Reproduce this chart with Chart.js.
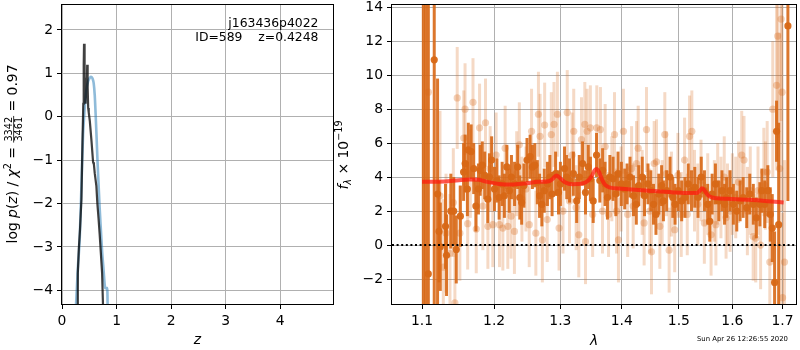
<!DOCTYPE html>
<html><head><meta charset="utf-8">
<script src="https://cdn.jsdelivr.net/npm/chart.js@4.4.1/dist/chart.umd.min.js"></script>
<style>
html,body{margin:0;padding:0;background:#fff;}
#wrap{position:relative;width:800px;height:350px;overflow:hidden;background:#fff;}
canvas{position:absolute;top:0;}
#c1{left:0px}
#c2{left:330px}
</style></head><body>
<div id="wrap"><canvas id="c1" width="340" height="350"></canvas><canvas id="c2" width="470" height="350"></canvas></div>
<script>
// ---------- Left panel: log p(z) ----------
const leftXTicks = [0, 1, 2, 3, 4];
const leftYTicks = [-4, -3, -2, -1, 0, 1, 2];
const blueZ    = [0.255,0.29,0.325,0.356,0.386,0.40,0.425,0.447,0.48,0.51,0.535,0.56,0.58,0.60,0.615,0.63,0.65,0.67,0.69,0.71,0.735,0.76,0.785,0.795,0.83,0.838];
const blueLogP = [-4.4,-3.5,-2.8,-1.6,-0.4,-0.1,0.35,0.62,0.82,0.9,0.92,0.88,0.78,0.5,0.1,-0.35,-1.0,-1.55,-2.1,-2.55,-3.1,-3.5,-3.9,-3.95,-3.95,-4.5];
const darkZ    = [0.275,0.29,0.31,0.33,0.356,0.375,0.39,0.398,0.404,0.41,0.418,0.426,0.432,0.44,0.452,0.462,0.47,0.48,0.49,0.51,0.54,0.57,0.585,0.60,0.63,0.648,0.67,0.69,0.715,0.735,0.755];
const darkLogP = [-4.5,-3.6,-3.0,-2.6,-1.9,-0.6,0.3,1.2,1.68,1.0,0.35,0.9,0.3,0.75,0.55,1.2,0.7,0.2,0.1,-0.1,-0.55,-1.05,-1.1,-1.3,-1.6,-2.0,-2.35,-2.7,-3.2,-3.6,-4.5];

// ---------- Right panel: spectrum ----------
const rightXTicks = [1.1, 1.2, 1.3, 1.4, 1.5, 1.6, 1.7];
const rightYTicks = [-2, 0, 2, 4, 6, 8, 10, 12, 14];
const lightLam = [1.1084,1.1241,1.1286,1.1323,1.1377,1.1423,1.1445,1.1477,1.1514,1.1568,
 1.1586,1.1623,1.1660,1.1698,1.1744,1.1791,1.1838,1.1876,1.1910,1.1943,
 1.1981,1.2029,1.2078,1.2127,1.2161,1.2200,1.2249,1.2298,1.2332,1.2371,
 1.2410,1.2470,1.2520,1.2555,1.2620,1.2660,1.2685,1.2720,1.2755,1.2795,
 1.2858,1.2900,1.2953,1.2979,1.3041,1.3108,1.3144,1.3185,1.3211,1.3249,
 1.3292,1.3335,1.3389,1.3400,1.3426,1.3479,1.3516,1.3584,1.3644,1.3678,
 1.3722,1.3778,1.3833,1.3878,1.3911,1.3944,1.3989,1.4028,1.4100,1.4167,
 1.4194,1.4251,1.4280,1.4349,1.4383,1.4424,1.4482,1.4512,1.4559,1.4600,
 1.4659,1.4700,1.4747,1.4776,1.4824,1.4865,1.4924,1.4982,1.5042,1.5103,
 1.5152,1.5194,1.5236,1.5285,1.5345,1.5406,1.5468,1.5531,1.5594,1.5656,
 1.5685,1.5719,1.5781,1.5844,1.5879,1.5906,1.5956,1.6000,1.6065,1.6120,
 1.6182,1.6227,1.6293,1.6350,1.6407,1.6458,1.6503,1.6555,1.6620,1.6650,
 1.6687,1.6740,1.6800,1.6877,1.6900,1.6940,1.6970,1.6990,1.7000,1.7040];
const lightFlux = [9.0,2.9,-1.3,0.7,-0.5,2.5,-3.4,8.66,0.7,6.3,
 8.0,1.26,4.2,8.4,0.94,6.9,2.3,7.2,1.1,4.5,
 1.2,5.3,1.2,1.0,5.7,1.1,1.7,0.8,4.2,5.9,
 2.7,3.3,1.2,6.7,0.7,7.7,6.4,0.3,7.06,1.5,
 6.5,7.1,7.7,1.0,2.0,7.8,2.6,5.3,6.7,2.2,
 0.6,6.2,7.1,0.2,6.7,6.9,1.8,6.9,6.8,2.0,
 5.8,1.8,3.9,6.5,2.0,0.3,3.3,6.7,1.8,4.5,
 2.3,4.8,5.7,3.1,1.3,6.8,2.0,-0.4,4.8,4.9,
 1.1,2.5,6.5,4.2,-0.3,3.0,0.9,4.1,1.8,5.0,
 1.8,6.4,6.7,3.2,2.4,3.8,1.3,3.0,0.6,2.6,
 1.2,3.6,2.8,4.0,1.6,2.4,2.0,3.0,2.8,3.7,
 5.3,5.0,2.0,3.2,0.5,0.4,3.2,0.0,4.3,3.5,
 4.3,-1.0,8.0,9.4,12.3,4.5,13.3,9.0,-3.1,-1.0];
const lightErr = [20,5,4,3.5,3.5,3.2,3,3,2.8,2.8,
 2.7,2.7,2.6,2.6,2.6,2.6,2.6,2.6,2.5,2.5,
 2.5,2.5,2.5,2.5,2.5,2.5,2.5,2.5,2.5,2.5,
 2.5,2.5,2.5,2.5,2.5,2.5,2.5,2.5,2.5,2.5,
 2.5,2.5,2.5,2.5,2.5,2.5,2.5,2.5,2.5,2.5,
 2.5,2.5,2.5,2.5,2.5,2.5,2.5,2.5,2.5,2.5,
 2.5,2.5,2.5,2.5,2.5,2.5,2.5,2.5,2.5,2.5,
 2.5,2.5,2.5,2.5,2.5,2.5,2.5,2.5,2.5,2.5,
 2.5,2.5,2.5,2.5,2.5,2.5,2.5,2.5,2.5,2.5,
 2.4,2.4,2.4,2.4,2.4,2.4,2.4,2.4,2.4,2.4,
 2.4,2.4,2.4,2.4,2.4,2.4,2.4,2.4,2.4,2.4,
 2.6,2.6,2.6,2.6,2.6,2.6,2.6,2.6,2.6,2.6,
 3,3.2,4,5,6,8,6,7,5,6];
const darkLam = [1.1017,1.1046,1.1083,1.1163,1.1208,1.1228,1.1245,1.1316,1.1330,1.1389,
 1.1429,1.1464,1.1521,1.1566,1.1588,1.1619,1.1632,1.1672,1.1708,1.1739,
 1.1775,1.1800,1.1830,1.1865,1.1909,1.1932,1.1964,1.2005,1.2041,1.2073,
 1.2117,1.2150,1.2186,1.2222,1.2254,1.2300,1.2346,1.2378,1.2406,1.2440,
 1.2486,1.2533,1.2568,1.2605,1.2643,1.2677,1.2712,1.2749,1.2798,1.2836,
 1.2870,1.2925,1.2970,1.3000,1.3065,1.3100,1.3145,1.3205,1.3258,1.3300,
 1.3353,1.3400,1.3445,1.3480,1.3525,1.3580,1.3634,1.3680,1.3720,1.3760,
 1.3800,1.3854,1.3900,1.3937,1.3993,1.4050,1.4090,1.4140,1.4200,1.4248,
 1.4290,1.4350,1.4390,1.4450,1.4500,1.4547,1.4590,1.4640,1.4690,1.4722,
 1.4780,1.4840,1.4890,1.4930,1.4989,1.5050,1.5110,1.5170,1.5230,1.5290,
 1.5350,1.5410,1.5470,1.5530,1.5570,1.5614,1.5676,1.5740,1.5800,1.5850,
 1.5890,1.5955,1.6020,1.6085,1.6150,1.6210,1.6280,1.6340,1.6410,1.6470,
 1.6540,1.6580,1.6637,1.6700,1.6750,1.6790,1.6837,1.6877,1.6920,1.7110];
const darkFlux = [20,-12,-1.7,10.9,3.0,0.8,-0.1,1.1,-0.6,2.0,
 2.0,-0.26,1.7,4.3,4.8,3.3,5.6,5.5,4.5,2.3,
 3.3,4.4,4.7,4.1,2.7,4.0,5.0,3.3,3.8,2.8,
 3.6,2.9,4.6,3.2,4.0,3.6,4.6,2.8,2.5,3.5,
 5.0,5.2,4.6,4.7,3.7,2.9,2.4,3.2,3.6,4.0,
 3.0,4.2,3.1,3.6,4.5,4.0,3.8,4.2,2.6,4.0,
 4.8,3.1,4.6,3.9,2.6,5.3,3.8,4.4,3.6,2.8,
 4.0,3.9,3.0,4.2,3.6,3.3,3.6,4.0,2.9,2.4,
 3.5,4.0,2.9,3.6,3.2,2.4,1.8,3.0,3.5,2.6,
 3.2,4.0,2.8,2.4,3.2,2.6,2.8,3.6,3.2,3.4,
 2.8,4.0,3.2,2.4,1.4,3.0,3.6,2.6,3.2,2.4,
 2.8,3.2,2.4,2.0,2.6,2.8,2.2,3.0,2.4,1.6,
 2.4,3.2,2.4,3.2,1.8,1.0,-2.2,6.7,1.2,12.9];
const darkErr = [28,28,25,20,6.8,3.0,2.6,2.5,2.4,2.2,
 2.0,2.0,1.8,1.7,1.7,1.6,1.6,1.6,1.5,1.5,
 1.5,1.5,1.4,1.4,1.4,1.4,1.4,1.3,1.3,1.3,
 1.3,1.3,1.3,1.3,1.3,1.3,1.3,1.3,1.3,1.3,
 1.3,1.3,1.3,1.3,1.3,1.3,1.3,1.3,1.3,1.3,
 1.3,1.3,1.3,1.3,1.3,1.3,1.3,1.3,1.3,1.3,
 1.3,1.3,1.3,1.3,1.3,1.3,1.3,1.3,1.3,1.3,
 1.3,1.3,1.3,1.3,1.3,1.2,1.2,1.2,1.2,1.2,
 1.2,1.2,1.2,1.2,1.2,1.2,1.2,1.2,1.2,1.2,
 1.2,1.2,1.2,1.2,1.2,1.2,1.2,1.2,1.2,1.2,
 1.2,1.2,1.2,1.2,1.2,1.2,1.2,1.2,1.2,1.2,
 1.2,1.2,1.2,1.2,1.2,1.2,1.2,1.2,1.2,1.2,
 1.3,1.3,1.4,1.5,1.6,2.0,3.0,1.8,6.0,10.3];
const modelLam  = [1.100,1.130,1.150,1.165,1.178,1.190,1.207,1.225,1.245,1.267,1.282,1.288,1.2935,1.300,1.307,1.319,1.335,1.344,1.350,1.355,1.358,1.362,1.367,1.372,1.379,1.400,1.446,1.490,1.525,1.534,1.539,1.5425,1.547,1.553,1.5614,1.590,1.631,1.670,1.7022];
const modelFlux = [3.72,3.74,3.82,3.86,3.84,3.72,3.60,3.56,3.62,3.72,3.76,3.90,4.10,3.92,3.70,3.58,3.62,3.78,4.05,4.40,4.48,4.30,3.85,3.55,3.40,3.32,3.20,3.10,3.06,3.08,3.22,3.34,3.22,2.95,2.80,2.72,2.66,2.58,2.50];

const LEFT_X = [0, 4.967], LEFT_Y = [-4.315, 2.575];
const RIGHT_X = [1.0608, 1.7278], RIGHT_Y = [-3.47, 14.13];

// ---------- helpers ----------
const FAM = '"DejaVu Sans"';
Chart.defaults.font.family = 'DejaVu Sans';
const fmt = v => (v < 0 ? '\u2212' : '') + Math.abs(v);
const pts = (xs, ys) => xs.map((x, i) => ({x: x, y: ys[i]}));
const ORANGE = '216,104,22';

const errorBars = {
  id: 'errorBars',
  beforeDatasetDraw(chart, args) {
    const ds = chart.data.datasets[args.index];
    if (!ds.errors) return;
    const {ctx, chartArea: a, scales: {x, y}} = chart;
    ctx.save();
    ctx.beginPath(); ctx.rect(a.left, a.top, a.right - a.left, a.bottom - a.top); ctx.clip();
    ctx.strokeStyle = ds.errColor; ctx.lineWidth = ds.errWidth; ctx.lineCap = 'butt';
    ds.data.forEach((p, i) => {
      const px = x.getPixelForValue(p.x), e = ds.errors[i];
      ctx.beginPath();
      ctx.moveTo(px, y.getPixelForValue(p.y - e));
      ctx.lineTo(px, y.getPixelForValue(p.y + e));
      ctx.stroke();
    });
    ctx.restore();
  }
};
const frame = {
  id: 'frame',
  afterDatasetsDraw(chart) {
    const {ctx, chartArea: a} = chart;
    ctx.save(); ctx.strokeStyle = '#000'; ctx.lineWidth = 1;
    ctx.strokeRect(Math.round(a.left) - 0.5, Math.round(a.top) - 0.5, Math.round(a.right - a.left) + 1, Math.round(a.bottom - a.top) + 1);
    ctx.restore();
  }
};
function drawRotatedRich(ctx, bx, cy, pieces) {
  ctx.save();
  ctx.translate(bx, cy); ctx.rotate(-Math.PI / 2);
  ctx.textBaseline = 'alphabetic'; ctx.fillStyle = '#000';
  let total = 0;
  for (const p of pieces) {
    ctx.font = p.font;
    p.w = p.frac ? Math.max(ctx.measureText(p.frac[0]).width, ctx.measureText(p.frac[1]).width) + 2 : ctx.measureText(p.t).width;
    total += p.w;
  }
  let x = -total / 2;
  for (const p of pieces) {
    ctx.font = p.font;
    if (p.frac) {
      const ax = -2.8;
      ctx.textAlign = 'center';
      ctx.fillText(p.frac[0], x + p.w / 2, ax - 1.3);
      ctx.fillText(p.frac[1], x + p.w / 2, ax + 1.3 + p.h);
      ctx.fillRect(x, ax - 0.4, p.w, 0.8);
    } else {
      ctx.textAlign = 'left';
      ctx.fillText(p.t, x, p.dy || 0);
    }
    x += p.w;
  }
  ctx.restore();
}
const F = '13.9px ' + FAM, FI = 'italic 13.9px ' + FAM, FS = '9.7px ' + FAM, FSI = 'italic 9.7px ' + FAM;

function axisCfg(range, ticks, isX, fixed, cb, type) {
  return {
    type: type || 'linear', min: range[0], max: range[1],
    afterBuildTicks: s => { s.ticks = ticks.map(v => ({value: v})); },
    afterFit: s => { if (isX) s.height = fixed; else s.width = fixed; s.paddingTop = 0; s.paddingBottom = 0; s.paddingLeft = 0; s.paddingRight = 0; },
    grid: {color: '#b0b0b0', lineWidth: 1, tickColor: '#000', tickLength: 5, drawTicks: true},
    border: {display: false},
    ticks: {font: {family: 'DejaVu Sans', size: 13.9}, color: '#000', padding: 4, maxRotation: 0, autoSkip: false, callback: cb}
  };
}

// ---------- left chart ----------
const leftText = {
  id: 'leftText',
  afterDraw(chart) {
    const {ctx, chartArea: a} = chart;
    ctx.save(); ctx.fillStyle = '#000';
    ctx.font = '12.4px ' + FAM; ctx.textAlign = 'right'; ctx.textBaseline = 'alphabetic';
    ctx.fillText('j163436p4022', a.right - 14.5, 26.5);
    ctx.fillText('ID=589    z=0.4248', a.right - 14.5, 41);
    ctx.font = FI; ctx.textAlign = 'center'; ctx.textBaseline = 'middle';
    ctx.fillText('z', (a.left + a.right) / 2, 340);
    ctx.restore();
    drawRotatedRich(ctx, 16.5, 154, [
      {t: 'log ', font: F}, {t: 'p', font: FI}, {t: '(', font: F}, {t: 'z', font: FI}, {t: ') / ', font: F},
      {t: '\u03c7', font: FI}, {t: '2', font: FS, dy: -6}, {t: ' = ', font: F},
      {frac: ['3342', '3461'], font: FS, h: 7}, {t: ' = 0.97', font: F}
    ]);
  }
};
new Chart(document.getElementById('c1'), {
  type: 'scatter',
  data: {datasets: [
    {data: pts(darkZ, darkLogP), showLine: true, pointRadius: 0, borderColor: 'rgba(0,0,0,0.75)', borderWidth: 2.2, tension: 0, order: 0},
    {data: pts(blueZ, blueLogP), showLine: true, pointRadius: 0, borderColor: 'rgba(31,119,180,0.5)', borderWidth: 2.6, cubicInterpolationMode: 'monotone', order: 1}
  ]},
  options: {
    responsive: false, animation: false, events: [],
    layout: {padding: {left: 0, right: 7, top: 5, bottom: 0}},
    plugins: {legend: {display: false}, tooltip: {enabled: false}},
    scales: {
      x: axisCfg(LEFT_X, leftXTicks, true, 46, v => fmt(v)),
      y: axisCfg(LEFT_Y, leftYTicks, false, 62, v => fmt(v))
    }
  },
  plugins: [frame, leftText]
});

// ---------- right chart ----------
const rightText = {
  id: 'rightText',
  afterDraw(chart) {
    const {ctx, chartArea: a} = chart;
    ctx.save(); ctx.fillStyle = '#000';
    ctx.font = FI; ctx.textAlign = 'center'; ctx.textBaseline = 'middle';
    ctx.fillText('\u03bb', (a.left + a.right) / 2, 341);
    ctx.font = '6.9px ' + FAM; ctx.textAlign = 'right';
    ctx.fillText('Sun Apr 26 12:26:55 2020', 458, 339.5);
    ctx.restore();
    drawRotatedRich(ctx, 18, 155, [
      {t: 'f', font: FI}, {t: '\u03bb', font: FSI, dy: 3}, {t: ' \u00d7 10', font: F}, {t: '\u221219', font: FS, dy: -6}
    ]);
  }
};
new Chart(document.getElementById('c2'), {
  type: 'scatter',
  data: {datasets: [
    {data: [{x: RIGHT_X[0], y: 0}, {x: RIGHT_X[1], y: 0}], showLine: true, pointRadius: 0, borderColor: '#000', borderWidth: 2, borderDash: [2, 2.6], order: 0},
    {data: pts(modelLam, modelFlux), showLine: true, pointRadius: 0, borderColor: 'rgba(255,25,15,0.72)', borderWidth: 4, cubicInterpolationMode: 'monotone', order: 1},
    {data: pts(darkLam, darkFlux), errors: darkErr, errColor: 'rgba(' + ORANGE + ',0.9)', errWidth: 3, pointRadius: 3.6, pointBackgroundColor: 'rgba(' + ORANGE + ',0.95)', pointBorderWidth: 0, order: 2},
    {data: pts(lightLam, lightFlux), errors: lightErr, errColor: 'rgba(' + ORANGE + ',0.25)', errWidth: 3, pointRadius: 3.6, pointBackgroundColor: 'rgba(' + ORANGE + ',0.3)', pointBorderWidth: 0, order: 3}
  ]},
  options: {
    responsive: false, animation: false, events: [],
    layout: {padding: {left: 0, right: 1, top: 5, bottom: 0}},
    plugins: {legend: {display: false}, tooltip: {enabled: false}},
    scales: {
      x: axisCfg(RIGHT_X, rightXTicks, true, 46, v => Number(v).toFixed(1), 'logarithmic'),
      y: axisCfg(RIGHT_Y, rightYTicks, false, 62, v => fmt(v))
    }
  },
  plugins: [errorBars, frame, rightText]
});
</script>
</body></html>
